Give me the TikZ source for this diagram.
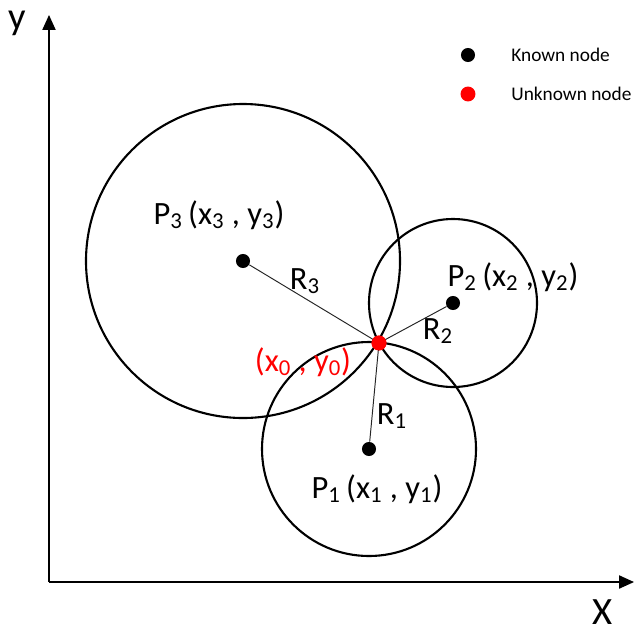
\documentclass[tikz,border=0pt]{standalone}
\usepackage{fontspec}
\setmainfont{Carlito}
\usetikzlibrary{arrows.meta}
\newcommand{\sbs}[1]{\textsubscript{#1}}
\begin{document}
\begin{tikzpicture}[
  x=0.02cm, y=-0.02cm,
  axis/.style={line width=0.8pt, -{Triangle[length=8.5pt, width=7.5pt]}},
  ring/.style={line width=1.2pt, black},
  spoke/.style={line width=0.55pt, black!85},
  known/.style={circle, fill=black, inner sep=0pt, minimum size=8pt},
  unknown/.style={circle, fill=red, inner sep=0pt, minimum size=8.5pt},
  lbl/.style={font=\fontsize{18.5}{22}\selectfont, inner sep=0pt},
  leg/.style={font=\fontsize{11}{13}\selectfont, anchor=west, inner sep=0pt},
  axlbl/.style={font=\fontsize{22}{26}\selectfont, inner sep=0pt}
]
  \useasboundingbox (0,0) rectangle (635,633);

  %% ── Axes ──────────────────────────────────────────────────────────────────
  \coordinate (origin) at (49,582);
  \coordinate (xend) at (634,582);
  \coordinate (yend) at (49,15);
  \draw[axis] (origin) -- (xend);
  \draw[axis] (origin) -- (yend);
  \node[axlbl] (ylab) at (17,23) {y};
  \node[axlbl] (xlab) at (603,612) {X};

  %% ── Circles ───────────────────────────────────────────────────────────────
  \draw[ring] (243,261) circle[radius=157];
  \draw[ring] (453,303) circle[radius=84];
  \draw[ring] (369,449) circle[radius=107];

  %% ── Nodes ─────────────────────────────────────────────────────────────────
  \node[known] (p3) at (243,261) {};
  \node[known] (p2) at (453,303) {};
  \node[known] (p1) at (369,449) {};
  \node[unknown] (p0) at (379,343) {};

  % distances to the unknown node
  \draw[spoke] (p3) -- (p0.center);
  \draw[spoke] (p2) -- (p0.center);
  \draw[spoke] (p1) -- (p0.center);
  \node[unknown] at (p0) {};

  %% ── Labels ────────────────────────────────────────────────────────────────
  \node[lbl] (l3) at (219,215) {P\sbs{3}\,(x\sbs{3} , y\sbs{3})};
  \node[lbl] (l2) at (513,277) {P\sbs{2}\,(x\sbs{2} , y\sbs{2})};
  \node[lbl] (l1) at (377,489) {P\sbs{1}\,(x\sbs{1} , y\sbs{1})};
  \node[lbl, text=red] (l0) at (303,362) {(x\sbs{0} , y\sbs{0})};
  \node[lbl] (r3) at (305,281) {R\sbs{3}};
  \node[lbl] (r2) at (438,331) {R\sbs{2}};
  \node[lbl] (r1) at (392,416) {R\sbs{1}};

  %% ── Legend ────────────────────────────────────────────────────────────────
  \node[known] (kdot) at (468,55) {};
  \node[unknown] (udot) at (468,94) {};
  \node[leg] (ktxt) at (511,55) {Known node};
  \node[leg] (utxt) at (511,94) {Unknown node};
\end{tikzpicture}
\end{document}
